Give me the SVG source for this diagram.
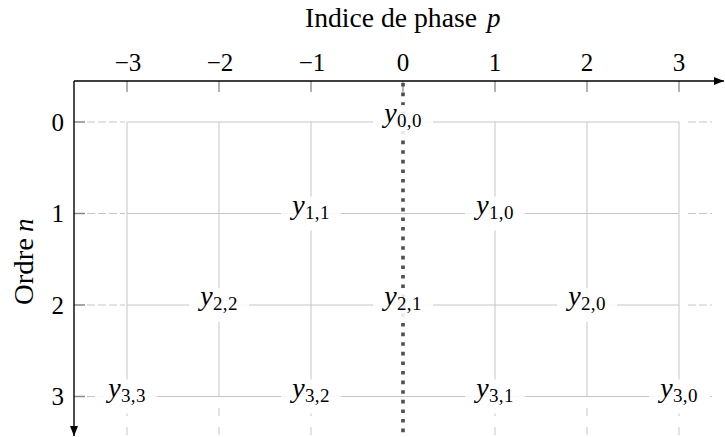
<svg xmlns="http://www.w3.org/2000/svg" width="725" height="437" viewBox="0 0 725 437" font-family="Liberation Serif, DejaVu Serif, serif">
<style>
text{font-family:'Liberation Serif','DejaVu Serif',serif}
.t{fill:#000}
.tick{font-size:25px}
.grid{stroke:#c6c6c6;stroke-width:1;fill:none}
.gdh{stroke:#c6c6c6;stroke-width:1;fill:none;stroke-dasharray:8 3}
.gdv{stroke:#c6c6c6;stroke-width:1;fill:none;stroke-dasharray:8 11}
.tk{stroke:#8a8a8a;stroke-width:1.3}
.axis{stroke:#000;stroke-width:1.4;fill:none}
.box{fill:#fff;fill-opacity:0.88}
.lab{font-size:28px;letter-spacing:0.3px}
.lab .i{font-style:italic}
.lab .s{font-size:19px}
</style>
<defs>
<marker id="arr" viewBox="0 0 10 8" refX="10" refY="4" markerWidth="10" markerHeight="8" markerUnits="userSpaceOnUse" orient="auto">
<path d="M0,0 L10,4 L0,8 z" fill="#000"/>
</marker>
</defs>
<rect width="725" height="437" fill="#fff"/>

<g id="grid">
<g id="grid-h">
<path class="grid" d="M127,122H679M127,213.5H679M127,305H679M127,396.5H679"/>
<path class="gdh" d="M87,122H125M87,213.5H125M87,305H125M87,396.5H125"/>
<path class="gdh" d="M688,122H712M688,213.5H712M688,305H712M688,396.5H712"/>
</g>
<g id="grid-v">
<path class="grid" d="M127,122V396.5M219,122V396.5M311,122V396.5M495,122V396.5M587,122V396.5M679,122V396.5"/>
<path class="gdv" d="M127,408V437M219,408V437M311,408V437M495,408V437M587,408V437M679,408V437"/>
</g>
<g id="ticks">
<path class="tk" d="M127,81V92M219,81V92M311,81V92M403,81V92M495,81V92M587,81V92M679,81V92"/>
<path class="tk" d="M74,122H85M74,213.5H85M74,305H85M74,396.5H85"/>
</g>
</g>

<g id="connectors">
<line id="phase-zero" x1="403" y1="83" x2="403" y2="437" stroke="#4f4f4f" stroke-width="3.6" stroke-dasharray="3.6 6"/>
<path id="x-axis" class="axis" d="M74,81H724" marker-end="url(#arr)"/>
<path id="y-axis" class="axis" d="M74,81V436" marker-end="url(#arr)"/>
</g>

<g id="axis-labels" class="t">
<text x="305" y="27" font-size="27" textLength="172" lengthAdjust="spacingAndGlyphs">Indice de phase</text>
<text x="487" y="27" font-size="27" font-style="italic">p</text>
<g transform="rotate(-90 33 305)">
<text x="33" y="305" font-size="27" textLength="67" lengthAdjust="spacingAndGlyphs">Ordre</text>
<text x="106" y="305" font-size="27" font-style="italic">n</text>
</g>
</g>

<g id="col-ticks" class="t tick" text-anchor="middle">
<text x="128" y="71">−3</text>
<text x="220" y="71">−2</text>
<text x="312" y="71">−1</text>
<text x="403" y="71">0</text>
<text x="495" y="71">1</text>
<text x="587" y="71">2</text>
<text x="679" y="71">3</text>
</g>
<g id="row-ticks" class="t tick" text-anchor="end">
<text x="64" y="130.5">0</text>
<text x="64" y="222">1</text>
<text x="64" y="313.5">2</text>
<text x="64" y="405">3</text>
</g>

<g id="n-y00"><rect class="box" x="373" y="105" width="60" height="34"/><text class="t lab" x="403" y="122" text-anchor="middle"><tspan class="i">y</tspan><tspan class="s" dy="5">0,0</tspan></text></g>
<g id="n-y11"><rect class="box" x="281" y="196.5" width="60" height="34"/><text class="t lab" x="311" y="213.5" text-anchor="middle"><tspan class="i">y</tspan><tspan class="s" dy="5">1,1</tspan></text></g>
<g id="n-y10"><rect class="box" x="465" y="196.5" width="60" height="34"/><text class="t lab" x="495" y="213.5" text-anchor="middle"><tspan class="i">y</tspan><tspan class="s" dy="5">1,0</tspan></text></g>
<g id="n-y22"><rect class="box" x="189" y="288" width="60" height="34"/><text class="t lab" x="219" y="305" text-anchor="middle"><tspan class="i">y</tspan><tspan class="s" dy="5">2,2</tspan></text></g>
<g id="n-y21"><rect class="box" x="373" y="288" width="60" height="34"/><text class="t lab" x="403" y="305" text-anchor="middle"><tspan class="i">y</tspan><tspan class="s" dy="5">2,1</tspan></text></g>
<g id="n-y20"><rect class="box" x="557" y="288" width="60" height="34"/><text class="t lab" x="587" y="305" text-anchor="middle"><tspan class="i">y</tspan><tspan class="s" dy="5">2,0</tspan></text></g>
<g id="n-y33"><rect class="box" x="97" y="379.5" width="60" height="34"/><text class="t lab" x="127" y="396.5" text-anchor="middle"><tspan class="i">y</tspan><tspan class="s" dy="5">3,3</tspan></text></g>
<g id="n-y32"><rect class="box" x="281" y="379.5" width="60" height="34"/><text class="t lab" x="311" y="396.5" text-anchor="middle"><tspan class="i">y</tspan><tspan class="s" dy="5">3,2</tspan></text></g>
<g id="n-y31"><rect class="box" x="465" y="379.5" width="60" height="34"/><text class="t lab" x="495" y="396.5" text-anchor="middle"><tspan class="i">y</tspan><tspan class="s" dy="5">3,1</tspan></text></g>
<g id="n-y30"><rect class="box" x="649" y="379.5" width="60" height="34"/><text class="t lab" x="679" y="396.5" text-anchor="middle"><tspan class="i">y</tspan><tspan class="s" dy="5">3,0</tspan></text></g>
</svg>
